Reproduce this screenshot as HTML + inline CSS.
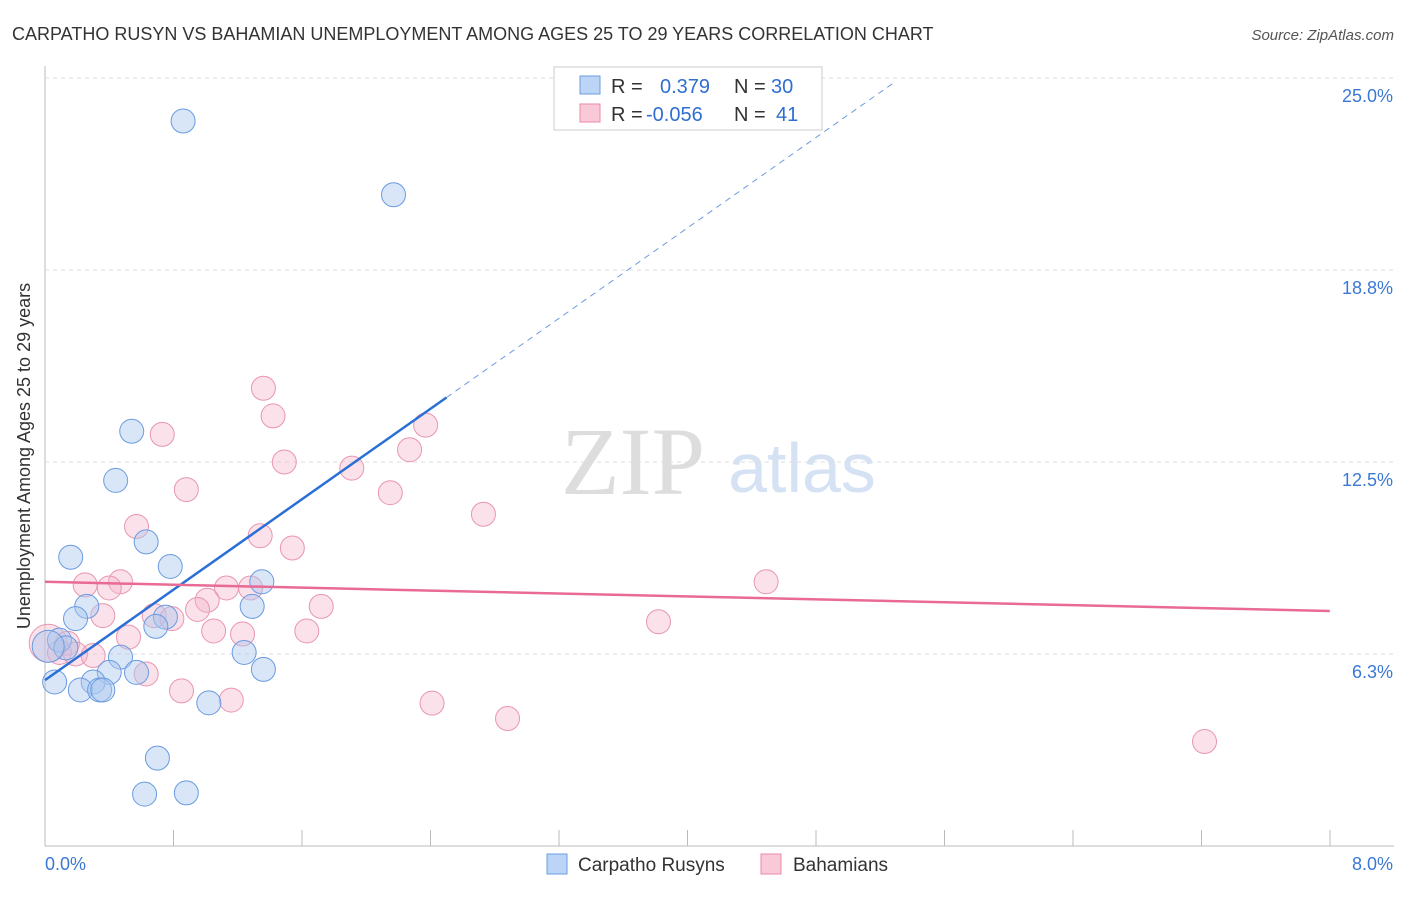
<!DOCTYPE html>
<html><head><meta charset="utf-8"><style>
body{margin:0;background:#fff;font-family:"Liberation Sans",sans-serif}
#wrap{position:relative;width:1406px;height:892px}
</style></head><body>
<div id="wrap">
<svg id="svg" width="1406" height="892" xmlns="http://www.w3.org/2000/svg">
<text x="12" y="40" font-size="18" fill="#333">CARPATHO RUSYN VS BAHAMIAN UNEMPLOYMENT AMONG AGES 25 TO 29 YEARS CORRELATION CHART</text>
<text x="1394" y="40" font-size="15" fill="#555" text-anchor="end" font-style="italic">Source: ZipAtlas.com</text>
<text x="30" y="456" font-size="18" fill="#333" text-anchor="middle" transform="rotate(-90 30 456)">Unemployment Among Ages 25 to 29 years</text>
<text x="633" y="494" font-size="96" fill="#ddd" font-family="Liberation Serif" text-anchor="middle">ZIP</text>
<text x="802" y="492" font-size="70" fill="#d4e2f4" text-anchor="middle">atlas</text>
<g id="grid"></g><g id="marks"></g>
<g>
<rect x="554" y="67" width="268" height="63" fill="#fff" stroke="#ccc"/>
<rect x="580" y="76" width="20" height="18" fill="#bcd4f5" stroke="#6a9be0"/>
<rect x="580" y="104" width="20" height="18" fill="#f9c9d8" stroke="#e88aaa"/>
<text x="611" y="93" font-size="20" fill="#333">R = <tspan fill="#2f6fd0" x="660">0.379</tspan><tspan fill="#333" x="734">N = </tspan><tspan fill="#2f6fd0" x="771">30</tspan></text>
<text x="611" y="121" font-size="20" fill="#333">R = <tspan fill="#2f6fd0" x="646">-0.056</tspan><tspan fill="#333" x="734">N = </tspan><tspan fill="#2f6fd0" x="776">41</tspan></text>
</g>
<g>
<rect x="547" y="854" width="20" height="20" fill="#bcd4f5" stroke="#6a9be0"/>
<text x="578" y="871" font-size="19" fill="#333">Carpatho Rusyns</text>
<rect x="761" y="854" width="20" height="20" fill="#f9c9d8" stroke="#e88aaa"/>
<text x="793" y="871" font-size="19" fill="#333">Bahamians</text>
</g>
</svg></div>
<script>
const yTicks=[6.25,12.5,18.75,25];
const yTickLabels=["6.3%","12.5%","18.8%","25.0%"];
const xTickLabels=["0.0%","8.0%"];
const blueX=[0.86,2.17,0.54,0.44,0.16,0.63,0.78,1.35,0.26,0.19,1.29,0.75,0.69,0.09,0.13,1.24,0.47,1.36,0.40,0.57,0.06,0.30,0.22,0.34,0.36,1.02,0.70,0.62,0.88,0.02];
const blueY=[23.6,21.2,13.5,11.9,9.4,9.9,9.1,8.6,7.8,7.4,7.8,7.45,7.15,6.7,6.45,6.3,6.15,5.75,5.65,5.65,5.34,5.34,5.08,5.08,5.08,4.66,2.86,1.69,1.73,6.5];
const pinkX=[1.36,1.42,0.73,1.49,2.37,2.27,1.91,2.15,0.88,2.73,0.57,1.34,1.54,0.47,0.25,0.40,1.28,1.13,4.49,1.01,0.95,1.72,0.68,0.79,0.36,3.82,1.05,1.23,1.63,0.52,0.02,0.14,0.09,0.19,0.30,0.63,0.85,1.16,2.41,2.88,7.22];
const pinkY=[14.9,14.0,13.4,12.5,13.7,12.9,12.3,11.5,11.6,10.8,10.4,10.1,9.7,8.6,8.5,8.4,8.4,8.4,8.6,8.0,7.7,7.8,7.5,7.4,7.5,7.3,7.0,6.9,7.0,6.8,6.6,6.6,6.3,6.25,6.2,5.6,5.05,4.75,4.65,4.15,3.4];
const blueTrend=[[0,5.4],[2.5,14.6],[5.3,24.9]];
const pinkTrend=[[0,8.6],[8,7.65]];
const NS="http://www.w3.org/2000/svg";
const X=v=>45+v*160.6, Y=v=>846-v*30.72;
function mk(t,a,p){const e=document.createElementNS(NS,t);for(const k in a)e.setAttribute(k,a[k]);p.appendChild(e);return e;}
const grid=document.getElementById('grid'),marks=document.getElementById('marks');
let ax=mk('line',{x1:45,y1:66,x2:45,y2:846,stroke:'#bbb'},grid);


let bx=mk('line',{x1:45,y1:846,x2:1394,y2:846,stroke:'#bbb'},grid);


for(let i=0;i<=10;i++){let t=mk('line',{x1:45+i*128.5,y1:830,x2:45+i*128.5,y2:846,stroke:'#bbb'},grid);

}
yTicks.forEach((v,i)=>{let g=mk('line',{x1:45,y1:Y(v),x2:1394,y2:Y(v),stroke:'#ddd','stroke-dasharray':'4,4'},grid);


let t=mk('text',{x:1393,y:Y(v)+24,'font-size':18,fill:'#3b78d4','text-anchor':'end'},grid);t.textContent=yTickLabels[i];

});
[[45,'start'],[1393,'end']].forEach((p,i)=>{let t=mk('text',{x:p[0],y:870,'font-size':18,fill:'#3b78d4','text-anchor':p[1]},grid);t.textContent=xTickLabels[i];

});
pinkX.forEach((v,i)=>{let c=mk('circle',{cx:X(v),cy:Y(pinkY[i]),r:i==30?19:12,fill:'rgba(246,180,200,0.4)',stroke:'#e996b2','stroke-width':1},marks);

});
blueX.forEach((v,i)=>{let c=mk('circle',{cx:X(v),cy:Y(blueY[i]),r:i==29?16:12,fill:'rgba(170,200,240,0.45)',stroke:'#6a9be0','stroke-width':1},marks);

});
let l1=mk('line',{x1:X(blueTrend[0][0]),y1:Y(blueTrend[0][1]),x2:X(blueTrend[1][0]),y2:Y(blueTrend[1][1]),stroke:'#2a6fd6','stroke-width':2.5},marks);


let l2=mk('line',{x1:X(blueTrend[1][0]),y1:Y(blueTrend[1][1]),x2:X(blueTrend[2][0]),y2:Y(blueTrend[2][1]),stroke:'#6a9be0','stroke-width':1,'stroke-dasharray':'6,5'},marks);


let l3=mk('line',{x1:X(pinkTrend[0][0]),y1:Y(pinkTrend[0][1]),x2:X(pinkTrend[1][0]),y2:Y(pinkTrend[1][1]),stroke:'#e86a95','stroke-width':2.5},marks);


</script>
</body></html>
